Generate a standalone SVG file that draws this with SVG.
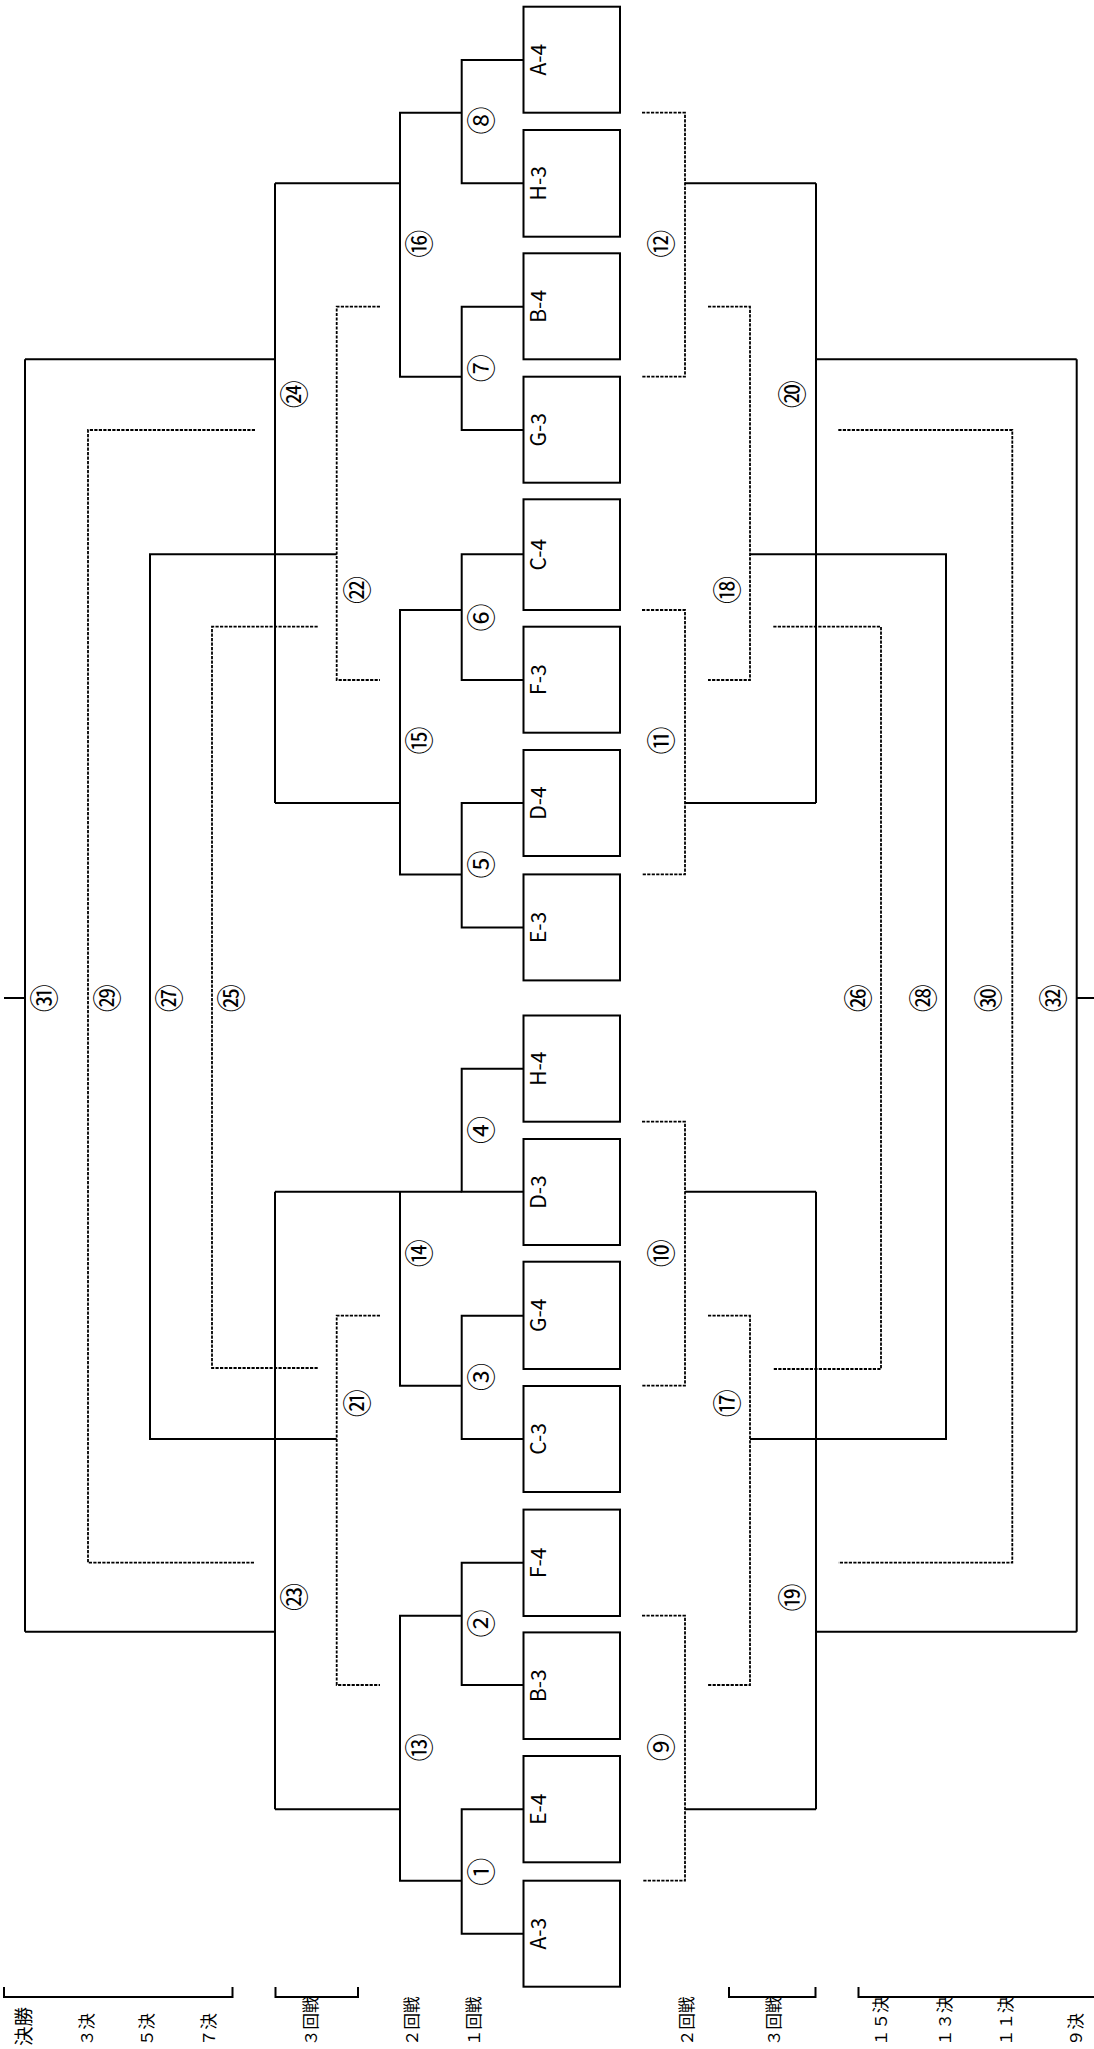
<svg xmlns="http://www.w3.org/2000/svg" width="1094" height="2049" viewBox="0 0 1094 2049">
<style>
.bg{fill:#fff}
.box{fill:#fff;stroke:#000;stroke-width:2}
.s{fill:none;stroke:#000;stroke-width:2}
.d{fill:none;stroke:#000;stroke-width:1.8;stroke-dasharray:3.2 1.3}
.bl{font-family:"Noto Sans CJK JP","Liberation Sans",sans-serif;font-size:21px;fill:#000;text-anchor:middle;dominant-baseline:central}
.cn{font-family:"Noto Sans CJK JP","DejaVu Sans",sans-serif;font-size:28px;fill:#000;text-anchor:middle;dominant-baseline:central}
.lg{font-family:"Noto Sans CJK JP",sans-serif;font-size:16.5px;fill:#000;text-anchor:start;dominant-baseline:central}
.lgb{font-size:19.5px}
</style>
<rect class="bg" x="0" y="0" width="1094" height="2049"/>

<g id="connectors">
  <!-- winners bracket (left) round 1 -->
  <path class="s" d="M523.5,60 H461.7 V183.3 H523.5"/>
  <path class="s" d="M523.5,306.7 H461.7 V430 H523.5"/>
  <path class="s" d="M523.5,554.3 H461.7 V680 H523.5"/>
  <path class="s" d="M523.5,803 H461.7 V927.4 H523.5"/>
  <path class="s" d="M523.5,1068.7 H461.7 V1191.7 H523.5"/>
  <path class="s" d="M523.5,1315.7 H461.7 V1439 H523.5"/>
  <path class="s" d="M523.5,1562.7 H461.7 V1685 H523.5"/>
  <path class="s" d="M523.5,1809.3 H461.7 V1933.7 H523.5"/>
  <!-- round 2 -->
  <path class="s" d="M461.7,112.7 H400 V376.7 H461.7 M400,183.3 H275"/>
  <path class="s" d="M461.7,610 H400 V874.4 H461.7 M400,803 H275"/>
  <path class="s" d="M461.7,1191.7 H275 M400,1191.7 V1385.7 H461.7"/>
  <path class="s" d="M461.7,1615.7 H400 V1880.7 H461.7 M400,1809.3 H275"/>
  <!-- round 3 -->
  <path class="s" d="M275,183.3 V803 M275,359.3 H25"/>
  <path class="s" d="M275,1191.7 V1809.3 M275,1631.7 H25"/>
  <!-- final -->
  <path class="s" d="M25,359.3 V1631.7 M4,998 H25"/>
  <!-- 27 -->
  <path class="s" d="M336.7,554.3 H150 V1439 H336.7"/>
  <!-- left dotted -->
  <path class="d" d="M380,306.7 H336.7 V680 H380"/>
  <path class="d" d="M380,1315.7 H336.7 V1685 H380"/>
  <path class="d" d="M317.7,626.7 H212 V1368 H317.7"/>
  <path class="d" d="M255,430 H88 V1562.7 H255"/>

  <!-- right side -->
  <path class="d" d="M642,112.7 H685 V376.7 H642"/>
  <path class="d" d="M642,610 H685 V874.4 H642"/>
  <path class="d" d="M642,1121.7 H685 V1385.7 H642"/>
  <path class="d" d="M642,1615.7 H685 V1880.7 H642"/>
  <path class="s" d="M685,183.3 H816 M685,803 H816 M816,183.3 V803 M816,359.3 H1076.7"/>
  <path class="s" d="M685,1191.7 H816 M685,1809.3 H816 M816,1191.7 V1809.3 M816,1631.7 H1076.7"/>
  <path class="s" d="M1076.7,359.3 V1631.7 M1076.7,998 H1094"/>
  <path class="d" d="M708,306.7 H750 V680 H708"/>
  <path class="d" d="M708,1315.7 H750 V1685 H708"/>
  <path class="s" d="M750,554.3 H946 V1439 H750"/>
  <path class="d" d="M773.3,626.7 H881 V1369 H773.3"/>
  <path class="d" d="M838.3,430 H1012.3 V1562.7 H838.3"/>
</g>

<g id="node-A-4"><rect class="box" x="523.5" y="6.7" width="96.5" height="106"/><text class="bl" transform="translate(537,59.7) rotate(-90)">A-4</text></g>
<g id="node-H-3"><rect class="box" x="523.5" y="130" width="96.5" height="106.7"/><text class="bl" transform="translate(537,183.3) rotate(-90)">H-3</text></g>
<g id="node-B-4"><rect class="box" x="523.5" y="253.3" width="96.5" height="106"/><text class="bl" transform="translate(537,306.3) rotate(-90)">B-4</text></g>
<g id="node-G-3"><rect class="box" x="523.5" y="376.7" width="96.5" height="106"/><text class="bl" transform="translate(537,429.7) rotate(-90)">G-3</text></g>
<g id="node-C-4"><rect class="box" x="523.5" y="499.3" width="96.5" height="110.7"/><text class="bl" transform="translate(537,554.6) rotate(-90)">C-4</text></g>
<g id="node-F-3"><rect class="box" x="523.5" y="626.7" width="96.5" height="106"/><text class="bl" transform="translate(537,679.7) rotate(-90)">F-3</text></g>
<g id="node-D-4"><rect class="box" x="523.5" y="750" width="96.5" height="106"/><text class="bl" transform="translate(537,803) rotate(-90)">D-4</text></g>
<g id="node-E-3"><rect class="box" x="523.5" y="874.4" width="96.5" height="106"/><text class="bl" transform="translate(537,927.4) rotate(-90)">E-3</text></g>
<g id="node-H-4"><rect class="box" x="523.5" y="1015.5" width="96.5" height="106.2"/><text class="bl" transform="translate(537,1068.6) rotate(-90)">H-4</text></g>
<g id="node-D-3"><rect class="box" x="523.5" y="1139" width="96.5" height="106"/><text class="bl" transform="translate(537,1192) rotate(-90)">D-3</text></g>
<g id="node-G-4"><rect class="box" x="523.5" y="1261.7" width="96.5" height="107.3"/><text class="bl" transform="translate(537,1315.3) rotate(-90)">G-4</text></g>
<g id="node-C-3"><rect class="box" x="523.5" y="1386" width="96.5" height="106"/><text class="bl" transform="translate(537,1439) rotate(-90)">C-3</text></g>
<g id="node-F-4"><rect class="box" x="523.5" y="1509.6" width="96.5" height="106.4"/><text class="bl" transform="translate(537,1562.8) rotate(-90)">F-4</text></g>
<g id="node-B-3"><rect class="box" x="523.5" y="1632.4" width="96.5" height="106.6"/><text class="bl" transform="translate(537,1685.7) rotate(-90)">B-3</text></g>
<g id="node-E-4"><rect class="box" x="523.5" y="1756" width="96.5" height="106.3"/><text class="bl" transform="translate(537,1809.2) rotate(-90)">E-4</text></g>
<g id="node-A-3"><rect class="box" x="523.5" y="1880.7" width="96.5" height="106"/><text class="bl" transform="translate(537,1933.7) rotate(-90)">A-3</text></g>

<g id="match-labels">
  <text class="cn" transform="translate(480,1871.7) rotate(-90)">①</text>
  <text class="cn" transform="translate(480,1623.5) rotate(-90)">②</text>
  <text class="cn" transform="translate(480,1377) rotate(-90)">③</text>
  <text class="cn" transform="translate(480,1130) rotate(-90)">④</text>
  <text class="cn" transform="translate(480,864.5) rotate(-90)">⑤</text>
  <text class="cn" transform="translate(480,617.5) rotate(-90)">⑥</text>
  <text class="cn" transform="translate(480,368.3) rotate(-90)">⑦</text>
  <text class="cn" transform="translate(480,120.5) rotate(-90)">⑧</text>
  <text class="cn" transform="translate(660,1747.3) rotate(-90)">⑨</text>
  <text class="cn" transform="translate(660,1253.3) rotate(-90)">⑩</text>
  <text class="cn" transform="translate(660,740.5) rotate(-90)">⑪</text>
  <text class="cn" transform="translate(660,243.8) rotate(-90)">⑫</text>
  <text class="cn" transform="translate(418,1747.5) rotate(-90)">⑬</text>
  <text class="cn" transform="translate(418,1253.3) rotate(-90)">⑭</text>
  <text class="cn" transform="translate(418,740.5) rotate(-90)">⑮</text>
  <text class="cn" transform="translate(418,243.8) rotate(-90)">⑯</text>
  <text class="cn" transform="translate(726,1403.3) rotate(-90)">⑰</text>
  <text class="cn" transform="translate(726,590) rotate(-90)">⑱</text>
  <text class="cn" transform="translate(791,1597.5) rotate(-90)">⑲</text>
  <text class="cn" transform="translate(791,394.3) rotate(-90)">⑳</text>
  <text class="cn" transform="translate(356,1403.3) rotate(-90)">㉑</text>
  <text class="cn" transform="translate(356,590) rotate(-90)">㉒</text>
  <text class="cn" transform="translate(293.3,1597) rotate(-90)">㉓</text>
  <text class="cn" transform="translate(293.3,394.3) rotate(-90)">㉔</text>
  <text class="cn" transform="translate(230,998.3) rotate(-90)">㉕</text>
  <text class="cn" transform="translate(857,998.3) rotate(-90)">㉖</text>
  <text class="cn" transform="translate(168.3,998.3) rotate(-90)">㉗</text>
  <text class="cn" transform="translate(922,998.3) rotate(-90)">㉘</text>
  <text class="cn" transform="translate(106,998.3) rotate(-90)">㉙</text>
  <text class="cn" transform="translate(987,998.3) rotate(-90)">㉚</text>
  <text class="cn" transform="translate(42.7,998.3) rotate(-90)">㉛</text>
  <text class="cn" transform="translate(1052,998.3) rotate(-90)">㉜</text>
</g>

<g id="legend">
  <path class="s" d="M4,1987 V1997 H232.5 V1987"/>
  <path class="s" d="M275.5,1987 V1997 H358 V1987"/>
  <path class="s" d="M729,1987 V1997 H815.5 V1987"/>
  <path class="s" d="M858.5,1987 V1997 H1094"/>
  <text class="lg lgb" transform="translate(22.5,2046) rotate(-90)">決勝</text>
  <text class="lg" transform="translate(85.5,2046) rotate(-90)">３決</text>
  <text class="lg" transform="translate(146,2046) rotate(-90)">５決</text>
  <text class="lg" transform="translate(207.5,2046) rotate(-90)">７決</text>
  <text class="lg" transform="translate(310,2046) rotate(-90)">３回戦</text>
  <text class="lg" transform="translate(410.5,2046) rotate(-90)">２回戦</text>
  <text class="lg" transform="translate(473,2046) rotate(-90)">１回戦</text>
  <text class="lg" transform="translate(686,2046) rotate(-90)">２回戦</text>
  <text class="lg" transform="translate(773,2046) rotate(-90)">３回戦</text>
  <text class="lg" transform="translate(879.5,2046) rotate(-90)">１５決</text>
  <text class="lg" transform="translate(943.5,2046) rotate(-90)">１３決</text>
  <text class="lg" transform="translate(1005,2046) rotate(-90)">１１決</text>
  <text class="lg" transform="translate(1074.5,2046) rotate(-90)">９決</text>
</g>
</svg>
